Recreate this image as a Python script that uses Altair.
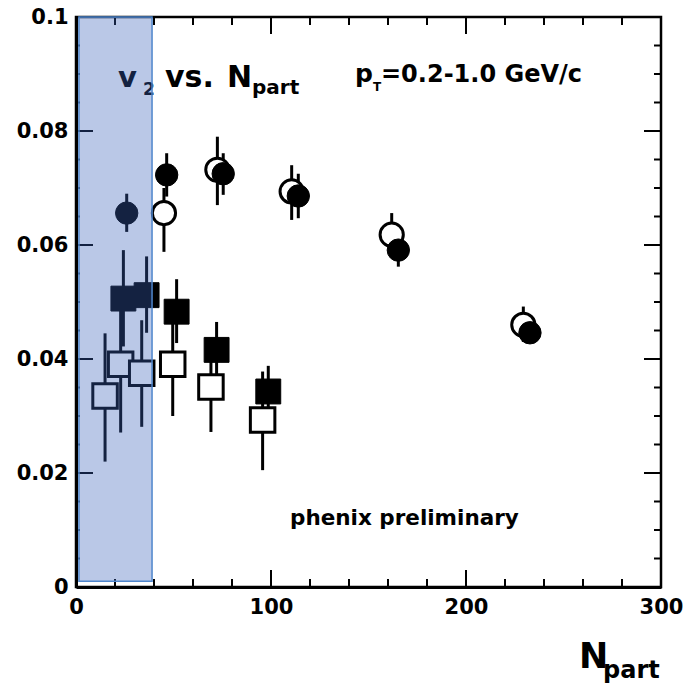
import altair as alt
import pandas as pd

# ---- data ----
fc_x = [26, 46.5, 75.5, 114, 165.3, 232.8]
fc_y = [0.0656, 0.0723, 0.0725, 0.0686, 0.0591, 0.0446]
fc_lo = [0.0623, 0.0685, 0.0688, 0.0647, 0.0562, 0.0432]
fc_hi = [0.0690, 0.0761, 0.0761, 0.0725, 0.0620, 0.0460]

oc_x = [45.1, 72.5, 110.6, 161.9, 229.4]
oc_y = [0.0656, 0.0732, 0.0694, 0.0618, 0.0460]
oc_lo = [0.0588, 0.0670, 0.0644, 0.0580, 0.0430]
oc_hi = [0.0700, 0.0790, 0.0740, 0.0656, 0.0492]

fs_x = [24.3, 36.2, 51.6, 72.1, 98.6]
fs_y = [0.0506, 0.0512, 0.0483, 0.0416, 0.0343]
fs_lo = [0.0422, 0.0446, 0.0428, 0.0369, 0.0299]
fs_hi = [0.0591, 0.0580, 0.0540, 0.0465, 0.0388]

os_x = [14.9, 22.9, 33.7, 49.6, 69.2, 95.7]
os_y = [0.0335, 0.0391, 0.0375, 0.0391, 0.0351, 0.0293]
os_lo = [0.0220, 0.0271, 0.0281, 0.0300, 0.0272, 0.0205]
os_hi = [0.0445, 0.0510, 0.0468, 0.0475, 0.0430, 0.0378]

shade_x = [1.5, 39]
shade_y = [0.001, 0.1]

x_major = [0, 100, 200, 300]
x_minor = [20, 40, 60, 80, 120, 140, 160, 180, 220, 240, 260, 280]
y_major = [0, 0.02, 0.04, 0.06, 0.08, 0.1]
y_minor = [0.005, 0.01, 0.015, 0.025, 0.03, 0.035, 0.045, 0.05, 0.055,
           0.065, 0.07, 0.075, 0.085, 0.09, 0.095]

FONT = "DejaVu Sans"
W, H = 585, 570

xs = alt.Scale(domain=[0, 300], nice=False, zero=False)
ys = alt.Scale(domain=[0, 0.1], nice=False, zero=False)

XAX = alt.Axis(values=x_major, title=None, grid=False, tickSize=0,
               labelFont=FONT, labelFontSize=21, labelFontWeight="bold",
               labelColor="black", labelPadding=9, domainColor="black",
               domainWidth=3, labelFlush=False, labelOverlap=False,
               labelExpr="datum.value == 0 ? ' 0' : datum.label")
YAX = alt.Axis(values=y_major, title=None, grid=False, tickSize=0,
               labelFont=FONT, labelFontSize=21, labelFontWeight="bold",
               labelColor="black", labelPadding=8, domainColor="black",
               domainWidth=3, labelFlush=False, labelOverlap=False,
               labelExpr="datum.value == 0 ? '0' : format(datum.value, '.2~f')")


def X(f):
    return alt.X(f, scale=xs, axis=XAX)


def Y(f):
    return alt.Y(f, scale=ys, axis=YAX)


def df(x, y, lo, hi):
    return pd.DataFrame({"x": x, "y": y, "lo": lo, "hi": hi})


def errbars(d):
    return alt.Chart(d).mark_rule(color="black", strokeWidth=3).encode(
        x=X("x:Q"), y=Y("lo:Q"), y2="hi:Q")


def points(d, shape, filled, size):
    if filled:
        mk = alt.Chart(d).mark_point(shape=shape, filled=True, fill="black",
                                     stroke="black", strokeWidth=1, opacity=1, size=size)
    else:
        mk = alt.Chart(d).mark_point(shape=shape, filled=True, fill="white",
                                     stroke="black", strokeWidth=3, opacity=1,
                                     fillOpacity=1, size=size)
    return mk.encode(x=X("x:Q"), y=Y("y:Q"))


d_fc = df(fc_x, fc_y, fc_lo, fc_hi)
d_oc = df(oc_x, oc_y, oc_lo, oc_hi)
d_fs = df(fs_x, fs_y, fs_lo, fs_hi)
d_os = df(os_x, os_y, os_lo, os_hi)


def xticks(vals, length):
    d = pd.DataFrame({"x": vals})
    bot = alt.Chart(d).mark_rule(color="black", strokeWidth=2).encode(
        x=X("x:Q"), y=alt.value(H), y2=alt.value(H - length))
    top = alt.Chart(d).mark_rule(color="black", strokeWidth=2).encode(
        x=X("x:Q"), y=alt.value(0), y2=alt.value(length))
    return [bot, top]


def yticks(vals, left_len, right_len):
    d = pd.DataFrame({"y": vals})
    left = alt.Chart(d).mark_rule(color="black", strokeWidth=2).encode(
        y=Y("y:Q"), x=alt.value(0), x2=alt.value(left_len))
    right = alt.Chart(d).mark_rule(color="black", strokeWidth=2).encode(
        y=Y("y:Q"), x=alt.value(W), x2=alt.value(W - right_len))
    return [left, right]


one = pd.DataFrame({"a": [0]})


def label(txt, px, py, size):
    return alt.Chart(one).mark_text(align="left", baseline="alphabetic", font=FONT,
                                    fontSize=size, fontWeight="bold", color="black").encode(
        x=alt.value(px), y=alt.value(py), text=alt.value(txt))


texts = [
    label("v", 42, 70, 29),
    label("2", 67, 78, 17),
    label("vs.", 89, 70, 30),
    label("N", 151, 70, 30),
    label("part", 176, 77, 20),
    label("p", 279, 65, 25),
    label("T", 297, 74, 12),
    label("=0.2-1.0 GeV/c", 305, 65, 24),
    label("phenix preliminary", 214, 508, 21.5),
    label("N", 503, 651, 35),
    label("part", 527, 661, 24),
]

shade = alt.Chart(pd.DataFrame({"x": [shade_x[0]], "x2": [shade_x[1]],
                                "y": [shade_y[0]], "y2": [shade_y[1]]})).mark_rect(
    fill="#3861B9", fillOpacity=0.35, stroke="#4F86CC", strokeWidth=1.5).encode(
    x=X("x:Q"), x2="x2:Q", y=Y("y:Q"), y2="y2:Q")

layers = [errbars(d_os), errbars(d_fs), errbars(d_oc), errbars(d_fc),
          points(d_os, "square", False, 600),
          points(d_fs, "square", True, 620),
          points(d_oc, "circle", False, 540),
          points(d_fc, "circle", True, 500)]
layers += xticks(x_major, 17) + xticks(x_minor, 8)
layers += yticks(y_major, 17, 17) + yticks(y_minor, 4, 7)
layers += texts
layers += [shade]

chart = alt.layer(*layers).properties(
    width=W, height=H,
    padding={"left": 76, "top": 17, "right": 24, "bottom": 101},
    autosize=alt.AutoSizeParams(type="none"),
    background="white",
).configure_view(stroke="black", strokeWidth=2.5)

chart.save("out.html", embed_options={"renderer": "svg", "actions": False})
